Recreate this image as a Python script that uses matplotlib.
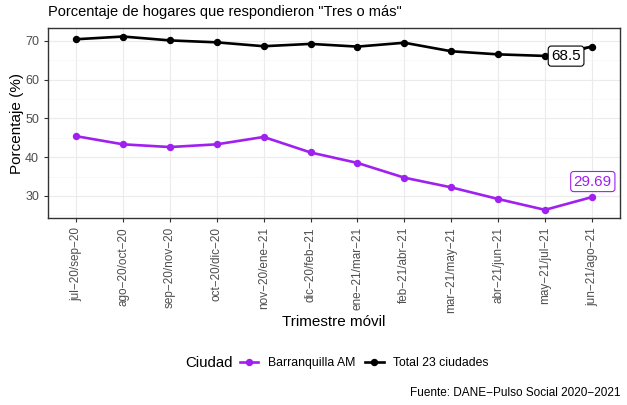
import matplotlib
matplotlib.use("Agg")
import matplotlib.pyplot as plt
from matplotlib.lines import Line2D

plt.rcParams['font.family'] = ['Liberation Sans', 'DejaVu Sans']

periodos = ["jul-20/sep-20", "ago-20/oct-20", "sep-20/nov-20", "oct-20/dic-20",
            "nov-20/ene-21", "dic-20/feb-21", "ene-21/mar-21", "feb-21/abr-21",
            "mar-21/may-21", "abr-21/jun-21", "may-21/jul-21", "jun-21/ago-21"]
barranquilla = [45.4, 43.3, 42.6, 43.3, 45.2, 41.2, 38.5, 34.7, 32.2, 29.2, 26.4, 29.69]
total23 = [70.4, 71.1, 70.1, 69.6, 68.6, 69.2, 68.5, 69.5, 67.3, 66.5, 66.1, 68.5]

purple = "#A020F0"
W, H = 627, 405
fig = plt.figure(figsize=(W/100, H/100), dpi=100)
L, R, T, B = 48, 620, 28, 218
ax = fig.add_axes([L/W, 1-B/H, (R-L)/W, (B-T)/H])

x = list(range(len(periodos)))
ax.plot(x, barranquilla, color=purple, lw=1.9, marker='o', ms=4.3, zorder=3)
ax.plot(x, total23, color='black', lw=1.9, marker='o', ms=4.3, zorder=3)

ax.set_xlim(-0.6, len(periodos) - 0.4)
ax.set_ylim(24.3, 73.3)
ax.set_yticks([30, 40, 50, 60, 70])
ax.set_yticks([25, 35, 45, 55, 65], minor=True)
ax.set_xticks(x)
ax.set_xticklabels([p.replace('-', '\u2212') for p in periodos], rotation=90, fontsize=8.5, color='#4D4D4D')
ax.tick_params(axis='y', labelsize=9, labelcolor='#4D4D4D', color='#333333', length=3)
ax.tick_params(axis='x', color='#333333', length=3)
ax.tick_params(axis='y', which='minor', length=0)
ax.grid(True, which='major', color='#EBEBEB', lw=0.8)
ax.grid(True, which='minor', axis='y', color='#F5F5F5', lw=0.5)
ax.set_axisbelow(True)
for s in ax.spines.values():
    s.set_color('#333333')
    s.set_linewidth(1.0)

# labels
ax.annotate(f"{total23[-1]:g}", xy=(x[-1], total23[-1]), xytext=(10.45, 66.05),
            ha='center', va='center', fontsize=11, color='black',
            bbox=dict(boxstyle='round,pad=0.2,rounding_size=0.2', fc='white', ec='black', lw=0.8),
            arrowprops=dict(arrowstyle='-', color='black', lw=0.8, shrinkA=0, shrinkB=2), zorder=5)
ax.annotate(f"{barranquilla[-1]:g}", xy=(x[-1], barranquilla[-1]), xytext=(11.02, 33.7),
            ha='center', va='center', fontsize=11, color=purple,
            bbox=dict(boxstyle='round,pad=0.2,rounding_size=0.2', fc='white', ec=purple, lw=0.8), zorder=5)

fig.text(L/W, 1-12/H, 'Porcentaje de hogares que respondieron "Tres o más"', fontsize=10.5,
         ha='left', va='center')
fig.text(17/W, 1-123/H, 'Porcentaje (%)', rotation=90, fontsize=11, ha='center', va='center')
fig.text((L+R)/2/W, 1-322/H, 'Trimestre móvil', fontsize=11, ha='center', va='center')
fig.text(R/W, 1-393/H, 'Fuente: DANE\u2212Pulso Social 2020\u22122021', fontsize=8.5, ha='right', va='center')

# legend
fig.text(185/W, 1-363/H, 'Ciudad', fontsize=10.8, ha='left', va='center')
handles = [Line2D([], [], color=purple, lw=1.9, marker='o', ms=4.3),
           Line2D([], [], color='black', lw=1.9, marker='o', ms=4.3)]
fig.legend(handles, ['Barranquilla AM', 'Total 23 ciudades'], ncol=2, frameon=False,
           loc='center left', bbox_to_anchor=(240/W, 1-363/H), fontsize=8.8,
           handlelength=1.5, handletextpad=0.8, columnspacing=0.8, borderaxespad=0, borderpad=0)

fig.savefig('out.png', dpi=100)
